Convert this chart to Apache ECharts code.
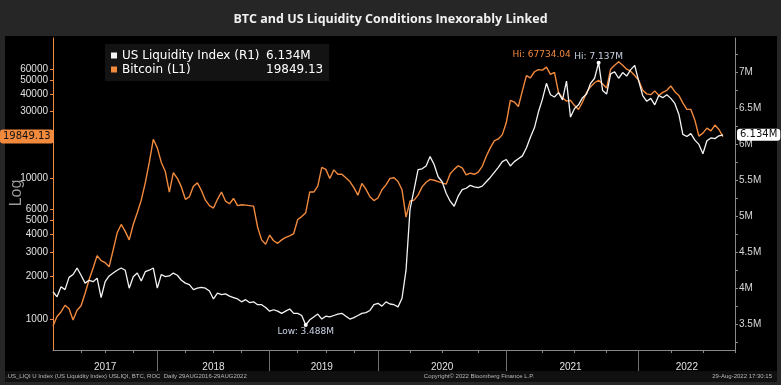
<!DOCTYPE html>
<html><head><meta charset="utf-8">
<script src="https://cdn.jsdelivr.net/npm/echarts@6/dist/echarts.min.js"></script>
<style>html,body{margin:0;padding:0;background:#262626}#c{width:781px;height:385px}</style>
</head><body><div id="c"></div><script>
const categories = [
'2017-01-01','2017-01-15','2017-01-29','2017-02-12','2017-02-26','2017-03-12','2017-03-26','2017-04-09','2017-04-23','2017-05-07','2017-05-21','2017-06-04','2017-06-18','2017-07-02','2017-07-16','2017-07-30','2017-08-13','2017-08-27','2017-09-10','2017-09-24','2017-10-08','2017-10-22','2017-11-05','2017-11-19','2017-12-03','2017-12-17',
'2018-01-01','2018-01-14','2018-01-27','2018-02-09','2018-02-22','2018-03-07','2018-03-20','2018-04-02','2018-04-15','2018-04-28','2018-05-11','2018-05-24','2018-06-06','2018-06-19','2018-07-02','2018-07-15','2018-07-28','2018-08-10','2018-08-23','2018-09-05','2018-09-18','2018-10-01','2018-10-14','2018-10-27','2018-11-09','2018-11-22','2018-12-05','2018-12-18',
'2019-01-01','2019-01-14','2019-01-28','2019-02-10','2019-02-24','2019-03-09','2019-03-23','2019-04-05','2019-04-19','2019-05-02','2019-05-16','2019-05-29','2019-06-12','2019-06-25','2019-07-09','2019-07-22','2019-08-05','2019-08-18','2019-09-01','2019-09-14','2019-09-28','2019-10-11','2019-10-25','2019-11-07','2019-11-21','2019-12-04','2019-12-18',
'2020-01-01','2020-01-12','2020-01-24','2020-02-04','2020-02-15','2020-02-27','2020-03-09','2020-03-20','2020-04-01','2020-04-12','2020-04-23','2020-05-05','2020-05-16','2020-05-27','2020-06-08','2020-06-19','2020-07-01','2020-07-12','2020-07-23','2020-08-04','2020-08-15','2020-08-26','2020-09-07','2020-09-18','2020-09-29','2020-10-11','2020-10-22','2020-11-02','2020-11-14','2020-11-25','2020-12-06','2020-12-18',
'2021-01-01','2021-01-12','2021-01-23','2021-02-03','2021-02-14','2021-02-25','2021-03-08','2021-03-19','2021-03-30','2021-04-10','2021-04-21','2021-05-02','2021-05-13','2021-05-24','2021-06-04','2021-06-15','2021-06-26','2021-07-07','2021-07-18','2021-07-29','2021-08-09','2021-08-20','2021-08-31','2021-09-11','2021-09-22','2021-10-03','2021-10-14','2021-10-25','2021-11-05','2021-11-16','2021-11-27','2021-12-08','2021-12-19',
'2022-01-01','2022-01-12','2022-01-24','2022-02-04','2022-02-15','2022-02-27','2022-03-10','2022-03-21','2022-04-02','2022-04-13','2022-04-24','2022-05-06','2022-05-17','2022-05-28','2022-06-09','2022-06-20','2022-07-01','2022-07-13','2022-07-24','2022-08-04','2022-08-17','2022-08-29','2022-09-09','2022-09-20','2022-10-01'
];

const bitcoin = [
890,1040,1120,1250,1180,980,1150,1240,1520,1900,
2300,2820,2600,2510,2350,3100,4100,4700,4200,3650,
4700,5700,7000,9300,13000,19000,16500,13000,11200,8000,
11000,10000,8700,7100,7400,8800,9300,8200,7000,6400,
6150,7100,8000,6900,6600,7200,6400,6500,6450,6400,
6350,4500,3650,3400,3950,3600,3450,3650,3800,3900,
4050,5100,5350,5700,8000,8000,8800,12000,11600,10000,
11500,10700,10700,10100,9500,8600,7600,9200,8400,7400,
6950,7250,8300,9000,10000,10100,9500,8300,5300,6900,
7000,7600,8700,9400,9850,9700,9500,9300,9100,10800,
11600,12300,11900,10600,10900,10700,11100,12200,14400,16500,
18500,19100,20500,25000,36000,35000,32500,42000,54000,52000,
57500,59500,59000,62000,55000,57000,41000,37500,35500,36000,
33000,31000,35000,41000,45000,48000,50000,47000,44000,60000,
64000,67734.04,64000,60000,58000,54000,50000,42500,40000,39500,
42000,39000,41000,42400,45500,41500,39000,34500,31000,31000,
26000,20000,21000,22800,21800,24000,22300,19849.13
];

// US Liquidity Index, millions
const usLiquidity = [
3.95,3.88,4.02,3.98,4.15,4.19,4.28,4.18,4.07,4.11,
4.09,4.14,3.87,4.09,4.17,4.21,4.25,4.28,4.25,4.00,
4.16,4.21,4.10,4.23,4.25,4.28,4.00,4.19,4.16,4.17,
4.21,4.18,4.11,4.07,4.05,3.98,4.00,4.01,4.00,3.96,
3.85,3.93,3.91,3.92,3.89,3.87,3.85,3.81,3.84,3.80,
3.81,3.77,3.77,3.73,3.68,3.70,3.68,3.65,3.68,3.71,
3.65,3.65,3.62,3.488,3.56,3.60,3.64,3.57,3.61,3.60,
3.62,3.64,3.65,3.61,3.57,3.59,3.62,3.65,3.66,3.69,
3.77,3.79,3.75,3.81,3.78,3.77,3.74,3.86,4.25,5.10,
5.37,5.65,5.66,5.70,5.83,5.72,5.55,5.48,5.32,5.21,
5.14,5.28,5.37,5.39,5.43,5.41,5.40,5.42,5.48,5.54,
5.61,5.68,5.76,5.79,5.70,5.76,5.80,5.84,5.95,6.10,
6.23,6.45,6.63,6.85,6.69,6.66,6.72,6.62,6.88,6.38,
6.50,6.55,6.65,6.70,6.85,6.92,7.137,6.75,6.70,6.98,
7.01,6.92,7.00,6.95,7.04,7.10,6.88,6.68,6.60,6.64,
6.55,6.68,6.65,6.69,6.64,6.57,6.42,6.14,6.11,6.15,
6.06,6.00,5.87,6.05,6.09,6.08,6.12,6.134
];

const btcTickLabels = [1000,2000,3000,4000,5000,6000,10000,30000,40000,50000,60000];
const liqTickLabels = [3.5,4,4.5,5,5.5,6,6.5,7];
const liqTicks = [3.25,3.5,3.75,4,4.25,4.5,4.75,5,5.25,5.5,5.75,6,6.25,6.5,6.75,7,7.25];
const titleText = 'BTC and US Liquidity Conditions Inexorably Linked';
const footerLeft = '.US_LIQI U Index (US Liquidity Index) USLIQI, BTC, ROC  Daily 29AUG2016-29AUG2022';
const footerMid = 'Copyright\u00A9 2022 Bloomberg Finance L.P.';
const footerRight = '29-Aug-2022 17:30:15';

const ORANGE = '#f28a3d';
const WHITE = '#f4f4f4';

const yearRange = {};
categories.forEach((c, i) => { const y = c.slice(0, 4); if (!(y in yearRange)) yearRange[y] = [i, i]; yearRange[y][1] = i; });
const labelIdx = new Set(Object.values(yearRange).map(r => Math.round((r[0] + r[1]) / 2)));
const yearStartIdx = new Set(Object.values(yearRange).map(r => r[0]).filter(i => i > 0));
const quarterIdx = new Set();
categories.forEach((c, i) => { if (i > 0) { const m = c.slice(5, 7); if (m !== categories[i - 1].slice(5, 7) && (m === '04' || m === '07' || m === '10')) quarterIdx.add(i); } });

const lastBtc = bitcoin[bitcoin.length - 1];
const lastLiq = usLiquidity[usLiquidity.length - 1];
const legendValues = { 'US Liquidity Index (R1)': lastLiq.toFixed(3) + 'M', 'Bitcoin (L1)': lastBtc.toFixed(2) };

const chart = echarts.init(document.getElementById('c'));
chart.setOption({
  backgroundColor: '#262626',
  animation: false,
  title: { text: titleText, left: 'center', top: 8, textStyle: { color: '#f0f0f0', fontSize: 12.5, fontWeight: 'bold', fontFamily: 'Open Sans' } },
  grid: { left: 53, right: 46, top: 38, bottom: 35 },
  legend: {
    orient: 'vertical', left: 105, top: 44, backgroundColor: '#131313', padding: [5, 6, 5, 6],
    itemWidth: 6, itemHeight: 6, itemGap: 1, icon: 'rect', selectedMode: false,
    data: [{ name: 'US Liquidity Index (R1)' }, { name: 'Bitcoin (L1)' }],
    formatter: n => '{n|' + n + '}{v|' + legendValues[n] + '}',
    textStyle: { color: '#ffffff', fontSize: 12, fontFamily: 'DejaVu Sans', lineHeight: 13,
      rich: { n: { width: 144, fontSize: 12, fontFamily: 'DejaVu Sans', color: '#fff' }, v: { fontSize: 12, fontFamily: 'DejaVu Sans', color: '#fff' } } }
  },
  xAxis: [
    { type: 'category', data: categories, boundaryGap: false,
      axisLine: { lineStyle: { color: '#8a8a8a' } },
      axisTick: { interval: i => quarterIdx.has(i), length: 3, lineStyle: { color: '#8a8a8a' } },
      axisLabel: { interval: i => labelIdx.has(i), formatter: v => v.slice(0, 4), color: '#e2e2e2', fontSize: 10, fontFamily: 'Liberation Sans', margin: 12 },
      splitLine: { show: false } },
    { type: 'category', data: categories, boundaryGap: false, position: 'bottom',
      axisLine: { show: false },
      axisTick: { interval: i => yearStartIdx.has(i), length: 21, lineStyle: { color: '#707070' } },
      axisLabel: { show: false }, splitLine: { show: false } }
  ],
  yAxis: [
    { type: 'log', logBase: 10, min: 600, max: 100000, position: 'left',
      axisLine: { show: true, lineStyle: { color: ORANGE } },
      axisTick: { show: true, customValues: btcTickLabels, length: 3, lineStyle: { color: ORANGE } },
      axisLabel: { customValues: btcTickLabels, color: '#e2e2e2', fontSize: 10, fontFamily: 'Liberation Sans', margin: 5, formatter: v => String(v) },
      splitLine: { show: false },
      axisPointer: { show: true, type: 'line', value: lastBtc, status: 'show', triggerTooltip: false, lineStyle: { opacity: 0 },
        label: { show: true, formatter: p => Number(p.value).toFixed(2), backgroundColor: ORANGE, color: '#111', fontSize: 10, fontFamily: 'DejaVu Sans', padding: [2, 3], margin: 1 } } },
    { type: 'value', min: 3.14, max: 7.48, position: 'right',
      axisLine: { show: true, lineStyle: { color: '#8a8a8a' } },
      axisTick: { show: true, customValues: liqTicks, length: 3, lineStyle: { color: '#8a8a8a' } },
      axisLabel: { customValues: liqTickLabels, color: '#d8d8d8', fontSize: 10, fontFamily: 'Liberation Sans', margin: 4, formatter: v => v + 'M' },
      splitLine: { show: false },
      axisPointer: { show: true, type: 'line', value: lastLiq, status: 'show', triggerTooltip: false, lineStyle: { opacity: 0 },
        label: { show: true, formatter: p => Number(p.value).toFixed(3) + 'M', backgroundColor: '#ffffff', color: '#111', fontSize: 10, fontFamily: 'DejaVu Sans', padding: [1, 3], margin: 2 } } }
  ],
  series: [
    { name: 'Bitcoin (L1)', type: 'line', data: bitcoin, xAxisIndex: 0, yAxisIndex: 0, showSymbol: false, color: ORANGE,
      lineStyle: { width: 1.4, color: ORANGE },
      markPoint: { symbol: 'circle', symbolSize: 1, itemStyle: { color: ORANGE },
        label: { color: ORANGE, fontSize: 9, fontFamily: 'DejaVu Sans' },
        data: [{ type: 'max', label: { position: 'inside', offset: [-77, -7], formatter: p => 'Hi: ' + Number(p.value).toFixed(2) } }] } },
    { name: 'US Liquidity Index (R1)', type: 'line', data: usLiquidity, xAxisIndex: 0, yAxisIndex: 1, showSymbol: false, color: WHITE,
      lineStyle: { width: 1.3, color: WHITE },
      markPoint: { symbol: 'circle', symbolSize: 4, itemStyle: { color: '#ffffff' },
        label: { color: '#c9d2e4', fontSize: 9, fontFamily: 'DejaVu Sans' },
        data: [
          { type: 'max', label: { position: 'inside', offset: [0, -6], formatter: p => 'Hi: ' + Number(p.value).toFixed(3) + 'M' } },
          { type: 'min', label: { position: 'inside', offset: [0, 7], formatter: p => 'Low: ' + Number(p.value).toFixed(3) + 'M' } }
        ] } }
  ],
  graphic: [
    { type: 'rect', z: -100, silent: true, shape: { x: 5, y: 36, width: 772, height: 335 }, style: { fill: '#000' } },
    { type: 'rect', z: -100, silent: true, shape: { x: 5, y: 371, width: 772, height: 11 }, style: { fill: '#101010' } },
    { type: 'text', z: 10, silent: true, x: 17, y: 193, rotation: Math.PI / 2, style: { text: 'Log', fill: '#9a9a9a', font: '16px "Liberation Sans"', align: 'center', verticalAlign: 'middle' } },
    { type: 'text', z: 10, silent: true, x: 6, y: 376, style: { text: footerLeft, fill: '#b8b8b8', font: '6px "Liberation Sans"', align: 'left', verticalAlign: 'middle' } },
    { type: 'text', z: 10, silent: true, x: 479, y: 376, style: { text: footerMid, fill: '#b8b8b8', font: '6px "Liberation Sans"', align: 'center', verticalAlign: 'middle' } },
    { type: 'text', z: 10, silent: true, x: 772, y: 376, style: { text: footerRight, fill: '#b8b8b8', font: '6px "Liberation Sans"', align: 'right', verticalAlign: 'middle' } }
  ]
});
</script></body></html>
